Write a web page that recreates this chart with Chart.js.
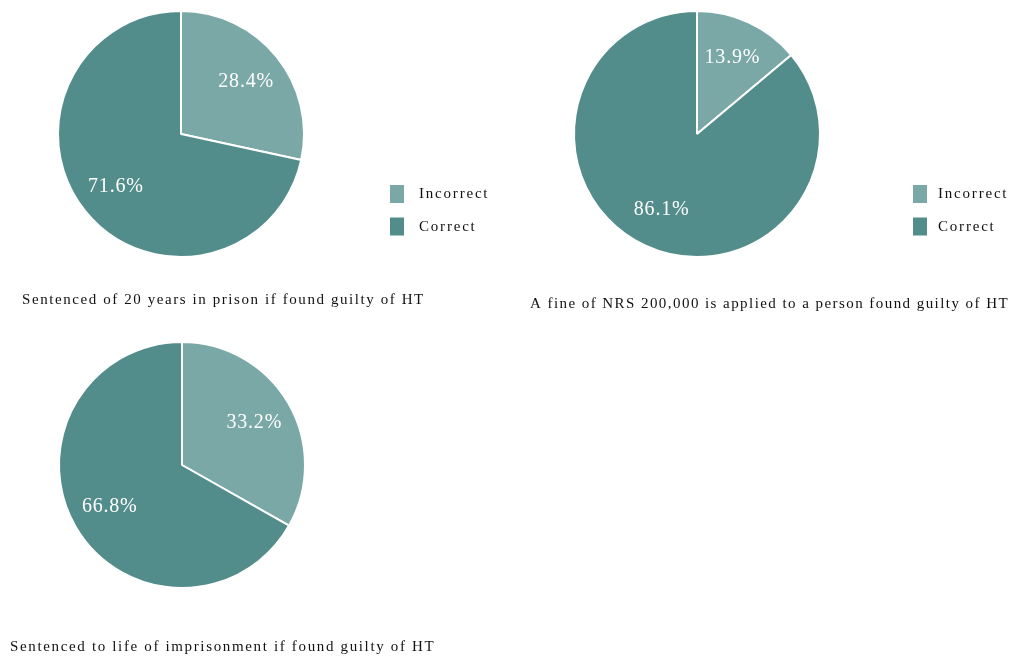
<!DOCTYPE html>
<html>
<head>
<meta charset="utf-8">
<script src="https://cdn.jsdelivr.net/npm/chart.js@4"></script>
<style>
  body { margin: 0; background: #fff; width: 1013px; height: 656px; position: relative; overflow: hidden; }
  canvas { position: absolute; }
</style>
</head>
<body>
<canvas id="prisonChart" width="506" height="320" style="left:0;top:0"></canvas>
<canvas id="fineChart" width="507" height="320" style="left:506px;top:0"></canvas>
<canvas id="lifeChart" width="506" height="336" style="left:0;top:320px"></canvas>
<script>
const categories = ['Incorrect', 'Correct'];
const prisonValues = [28.4, 71.6];
const fineValues = [13.9, 86.1];
const lifeValues = [33.2, 66.8];
const captions = [
    'Sentenced of 20 years in prison if found guilty of HT',
    'A fine of NRS 200,000 is applied to a person found guilty of HT',
    'Sentenced to life of imprisonment if found guilty of HT'
];

const sliceColors = ['#7aa8a7', '#528d8b'];
const serif = '"Liberation Serif", "Times New Roman", serif';

// percentage text inside each slice
const sliceLabels = {
    id: 'sliceLabels',
    afterDatasetsDraw(chart) {
        const ctx = chart.ctx;
        const values = chart.data.datasets[0].data;
        ctx.save();
        ctx.font = '20px ' + serif;
        ctx.letterSpacing = '0.8px';
        ctx.fillStyle = '#ffffff';
        ctx.textAlign = 'center';
        ctx.textBaseline = 'middle';
        chart.getDatasetMeta(0).data.forEach((arc, i) => {
            const p = arc.getProps(['x', 'y', 'startAngle', 'endAngle', 'outerRadius'], true);
            const mid = (p.startAngle + p.endAngle) / 2;
            const r = p.outerRadius * 0.68;
            ctx.fillText(values[i].toFixed(1) + '%', p.x + Math.cos(mid) * r, p.y + Math.sin(mid) * r);
        });
        ctx.restore();
    }
};

// legend boxes on the right and caption under the pie
const sideText = {
    id: 'sideText',
    afterDraw(chart, args, opts) {
        const ctx = chart.ctx;
        ctx.save();
        ctx.textBaseline = 'middle';
        ctx.font = '15px ' + serif;
        ctx.letterSpacing = '1.8px';
        chart.data.labels.forEach((label, i) => {
            const y = opts.legendY + i * 32.5;
            ctx.fillStyle = sliceColors[i];
            ctx.fillRect(opts.boxX, y, 14, 18);
            ctx.fillStyle = '#111';
            ctx.fillText(label, opts.textX, y + 9.5);
        });
        ctx.letterSpacing = opts.captionSpacing;
        ctx.fillText(opts.caption, opts.captionX, opts.captionY);
        ctx.restore();
    }
};

function makePie(id, values, padding, side) {
    return new Chart(document.getElementById(id), {
        type: 'pie',
        data: {
            labels: categories,
            datasets: [{
                data: values,
                backgroundColor: sliceColors,
                borderColor: '#ffffff',
                borderWidth: 2
            }]
        },
        options: {
            responsive: false,
            animation: false,
            radius: 123,
            layout: { padding: padding },
            plugins: {
                legend: { display: false },
                tooltip: { enabled: false },
                sideText: side
            }
        },
        plugins: [sliceLabels, sideText]
    });
}

makePie('prisonChart', prisonValues, { left: 0, top: 0, right: 144, bottom: 52 },
    { boxX: 390, textX: 419, legendY: 185, caption: captions[0], captionX: 22, captionY: 300, captionSpacing: '1.58px' });
makePie('fineChart', fineValues, { left: 0, top: 0, right: 125, bottom: 52 },
    { boxX: 407, textX: 432, legendY: 185, caption: captions[1], captionX: 24, captionY: 304, captionSpacing: '1.44px' });
makePie('lifeChart', lifeValues, { left: 0, top: 0, right: 142, bottom: 46 },
    { boxX: 393, textX: 411, legendY: 517, caption: captions[2], captionX: 10, captionY: 327, captionSpacing: '1.65px' });
</script>
</body>
</html>
